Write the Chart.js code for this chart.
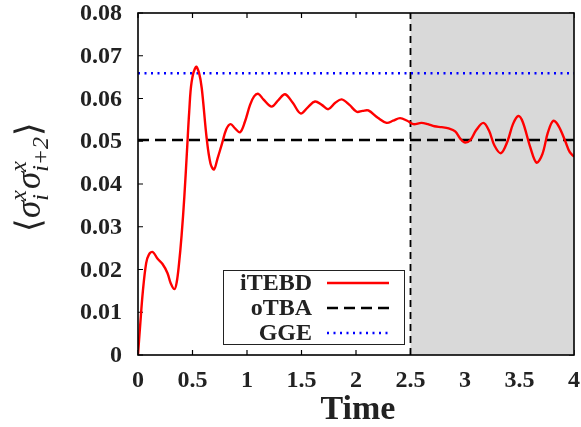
<!DOCTYPE html>
<html>
<head>
<meta charset="utf-8">
<script src="https://cdn.jsdelivr.net/npm/chart.js@4.4.1/dist/chart.umd.min.js"></script>
<style>
  html, body { margin: 0; padding: 0; background: #fff; }
  #wrap { width: 581px; height: 427px; }
</style>
</head>
<body>
<div id="wrap"><canvas id="chart" width="581" height="427"></canvas></div>
<script>
// ---- data -----------------------------------------------------------
const timeValues = [
  0, 0.02, 0.045, 0.075, 0.1, 0.135, 0.18, 0.225, 0.27, 0.3, 0.335, 0.355,
  0.375, 0.4, 0.425, 0.45, 0.47, 0.492, 0.532, 0.56, 0.585, 0.63, 0.665,
  0.697, 0.73, 0.768, 0.81, 0.85, 0.89, 0.936, 0.98, 1.028, 1.065, 1.104,
  1.15, 1.226, 1.29, 1.349, 1.42, 1.492, 1.56, 1.624, 1.686, 1.746, 1.81,
  1.869, 1.94, 2.006, 2.06, 2.113, 2.2, 2.281, 2.34, 2.404, 2.47, 2.526, 2.6,
  2.66, 2.72, 2.786, 2.85, 2.91, 2.96, 3.0, 3.05, 3.1, 3.168, 3.22, 3.27,
  3.33, 3.39, 3.44, 3.489, 3.53, 3.6, 3.657, 3.71, 3.76, 3.81, 3.86, 3.92,
  3.96, 4.0,
];
const itebdValues = [
  0, 0.007, 0.015, 0.0215, 0.0235, 0.0241, 0.0225, 0.0213, 0.0192, 0.0168,
  0.0154, 0.017, 0.021, 0.028, 0.037, 0.048, 0.057, 0.0639, 0.0674, 0.066,
  0.0624, 0.0507, 0.0448, 0.0434, 0.046, 0.0492, 0.0528, 0.054, 0.053,
  0.0521, 0.0545, 0.0585, 0.0605, 0.0611, 0.0598, 0.0581, 0.0597, 0.061,
  0.059, 0.0565, 0.058, 0.0593, 0.0585, 0.0575, 0.059, 0.0598, 0.0585,
  0.0569, 0.0571, 0.0572, 0.0555, 0.0543, 0.0548, 0.0554, 0.0548, 0.054,
  0.0543, 0.054, 0.0535, 0.0533, 0.053, 0.0523, 0.0505, 0.0497, 0.0503,
  0.0525, 0.0543, 0.0525, 0.049, 0.0472, 0.05, 0.054, 0.0559, 0.0545,
  0.0485, 0.045, 0.047, 0.052, 0.0548, 0.0535, 0.05, 0.0475, 0.0464,
];
const otbaValue = 0.0503;
const ggeValue = 0.0659;
const shadeStart = 2.5;
const xRange = [0, 4];
const xTicks = [0, 0.5, 1, 1.5, 2, 2.5, 3, 3.5, 4];
const yTicks = [0, 0.01, 0.02, 0.03, 0.04, 0.05, 0.06, 0.07, 0.08];
const seriesNames = ["iTEBD", "oTBA", "GGE"];

// ---- helpers --------------------------------------------------------
const serifBold = (size) => `bold ${size}px "Liberation Serif", "Times New Roman", serif`;
const fmtTick = (v) => String(Math.round(v * 100) / 100);

const styles = {
  iTEBD: { color: "#ff0000", width: 2.4, dash: [] },
  oTBA: { color: "#000000", width: 2.4, dash: [11, 6] },
  GGE: { color: "#0000ff", width: 2.4, dash: [2, 4.5] },
};

// ticks, shaded area and the t=2.5 marker, drawn under the curves
const backdrop = {
  id: "backdrop",
  beforeDatasetsDraw(chart) {
    const { ctx, chartArea: a, scales: { x, y } } = chart;
    ctx.save();
    ctx.strokeStyle = "#000";
    ctx.lineWidth = 1.2;
    ctx.beginPath();
    xTicks.forEach((t) => {
      const px = x.getPixelForValue(t);
      ctx.moveTo(px, a.bottom); ctx.lineTo(px, a.bottom - 5);
      ctx.moveTo(px, a.top); ctx.lineTo(px, a.top + 5);
    });
    yTicks.forEach((v) => {
      const py = y.getPixelForValue(v);
      ctx.moveTo(a.left, py); ctx.lineTo(a.left + 5, py);
      ctx.moveTo(a.right, py); ctx.lineTo(a.right - 5, py);
    });
    ctx.stroke();

    // tick labels
    ctx.fillStyle = "#222";
    ctx.font = serifBold(24);
    ctx.textAlign = "center";
    ctx.textBaseline = "middle";
    xTicks.forEach((t) => ctx.fillText(fmtTick(t), x.getPixelForValue(t), a.bottom + 26));
    ctx.textAlign = "right";
    yTicks.forEach((v) => ctx.fillText(fmtTick(v), a.left - 16, y.getPixelForValue(v) + 1));

    const sx = x.getPixelForValue(shadeStart);
    ctx.fillStyle = "#d9d9d9";
    ctx.fillRect(sx, a.top, a.right - sx, a.bottom - a.top);

    ctx.strokeStyle = "#000";
    ctx.setLineDash([7, 5]);
    ctx.lineWidth = 1.8;
    ctx.beginPath();
    ctx.moveTo(sx, a.bottom);
    ctx.lineTo(sx, a.top);
    ctx.stroke();
    ctx.restore();
  },
  afterDatasetsDraw(chart) {
    const { ctx, chartArea: a } = chart;
    ctx.save();
    ctx.strokeStyle = "#000";
    ctx.lineWidth = 1.6;
    ctx.strokeRect(a.left, a.top, a.right - a.left, a.bottom - a.top);
    ctx.restore();
  },
};

// legend box, axis titles
const overlay = {
  id: "overlay",
  afterDraw(chart) {
    const { ctx, chartArea: a } = chart;
    ctx.save();

    // legend
    ctx.fillStyle = "#fff";
    ctx.fillRect(223, 270, 182, 74);
    ctx.strokeStyle = "#222";
    ctx.lineWidth = 1;
    ctx.strokeRect(223.5, 270.5, 181, 74);
    ctx.font = serifBold(24);
    ctx.textAlign = "right";
    ctx.textBaseline = "middle";
    seriesNames.forEach((name, i) => {
      const cy = 283 + i * 25;
      const s = styles[name];
      ctx.fillStyle = "#222";
      ctx.fillText(name, 312, cy + 1);
      ctx.strokeStyle = s.color;
      ctx.lineWidth = s.width;
      ctx.setLineDash(s.dash);
      ctx.beginPath();
      ctx.moveTo(327, cy);
      ctx.lineTo(389, cy);
      ctx.stroke();
      ctx.setLineDash([]);
    });

    // x title
    ctx.fillStyle = "#222";
    ctx.font = serifBold(34);
    ctx.textAlign = "center";
    ctx.textBaseline = "alphabetic";
    ctx.fillText("Time", (a.left + a.right) / 2 + 2, 419);

    // y title: <sigma_i^x sigma_{i+2}^x>
    ctx.translate(40, 177);
    ctx.rotate(-Math.PI / 2);
    const big = 35, small = 24;
    const up = (s) => `${s}px "Liberation Serif", serif`;
    const it = (s) => `italic ${s}px "Liberation Serif", serif`;
    const parts = [
      { t: "\u27E8", f: up(big), dy: 0 },
      { t: "\u03C3", f: it(big), dy: 0 },
      { stack: [{ t: "x", f: it(small), dy: -14 }, { t: "i", f: it(small), dy: 8 }] },
      { t: "\u03C3", f: it(big), dy: 0 },
      { stack: [{ t: "x", f: it(small), dy: -14 }, { t: "i+2", f: it(small), dy: 8 }] },
      { t: "\u27E9", f: up(big), dy: 0 },
    ];
    const width = (p) => {
      if (p.stack) return Math.max(...p.stack.map(width)) + 1;
      ctx.font = p.f;
      return ctx.measureText(p.t).width;
    };
    const total = parts.reduce((s, p) => s + width(p), 0);
    let cx = -total / 2;
    ctx.textAlign = "left";
    parts.forEach((p) => {
      const items = p.stack || [p];
      items.forEach((q) => {
        ctx.font = q.f;
        ctx.fillText(q.t, cx, q.dy);
      });
      cx += width(p);
    });
    ctx.restore();
  },
};

const flatLine = (v) => xRange.map((t) => ({ x: t, y: v }));

new Chart(document.getElementById("chart"), {
  type: "scatter",
  data: {
    datasets: [
      {
        label: "iTEBD",
        data: timeValues.map((t, i) => ({ x: t, y: itebdValues[i] })),
        showLine: true,
        borderColor: styles.iTEBD.color,
        borderWidth: styles.iTEBD.width,
        pointRadius: 0,
        tension: 0.35,
      },
      {
        label: "oTBA",
        data: flatLine(otbaValue),
        showLine: true,
        borderColor: styles.oTBA.color,
        borderWidth: styles.oTBA.width,
        borderDash: styles.oTBA.dash,
        pointRadius: 0,
      },
      {
        label: "GGE",
        data: flatLine(ggeValue),
        showLine: true,
        borderColor: styles.GGE.color,
        borderWidth: styles.GGE.width,
        borderDash: styles.GGE.dash,
        pointRadius: 0,
      },
    ],
  },
  options: {
    responsive: false,
    animation: false,
    devicePixelRatio: 1,
    layout: { padding: { left: 0, top: 13, right: 7, bottom: 0 } },
    plugins: { legend: { display: false }, tooltip: { enabled: false } },
    scales: {
      x: {
        type: "linear",
        min: xRange[0],
        max: xRange[1],
        afterFit: (s) => { s.height = 72; s.paddingLeft = 0; s.paddingRight = 0; },
        grid: { display: false, drawTicks: false },
        border: { display: false },
        ticks: { display: false },
      },
      y: {
        min: 0,
        max: 0.08,
        afterFit: (s) => { s.width = 138; s.paddingTop = 0; s.paddingBottom = 0; },
        grid: { display: false, drawTicks: false },
        border: { display: false },
        ticks: { display: false },
      },
    },
  },
  plugins: [backdrop, overlay],
});
</script>
</body>
</html>
